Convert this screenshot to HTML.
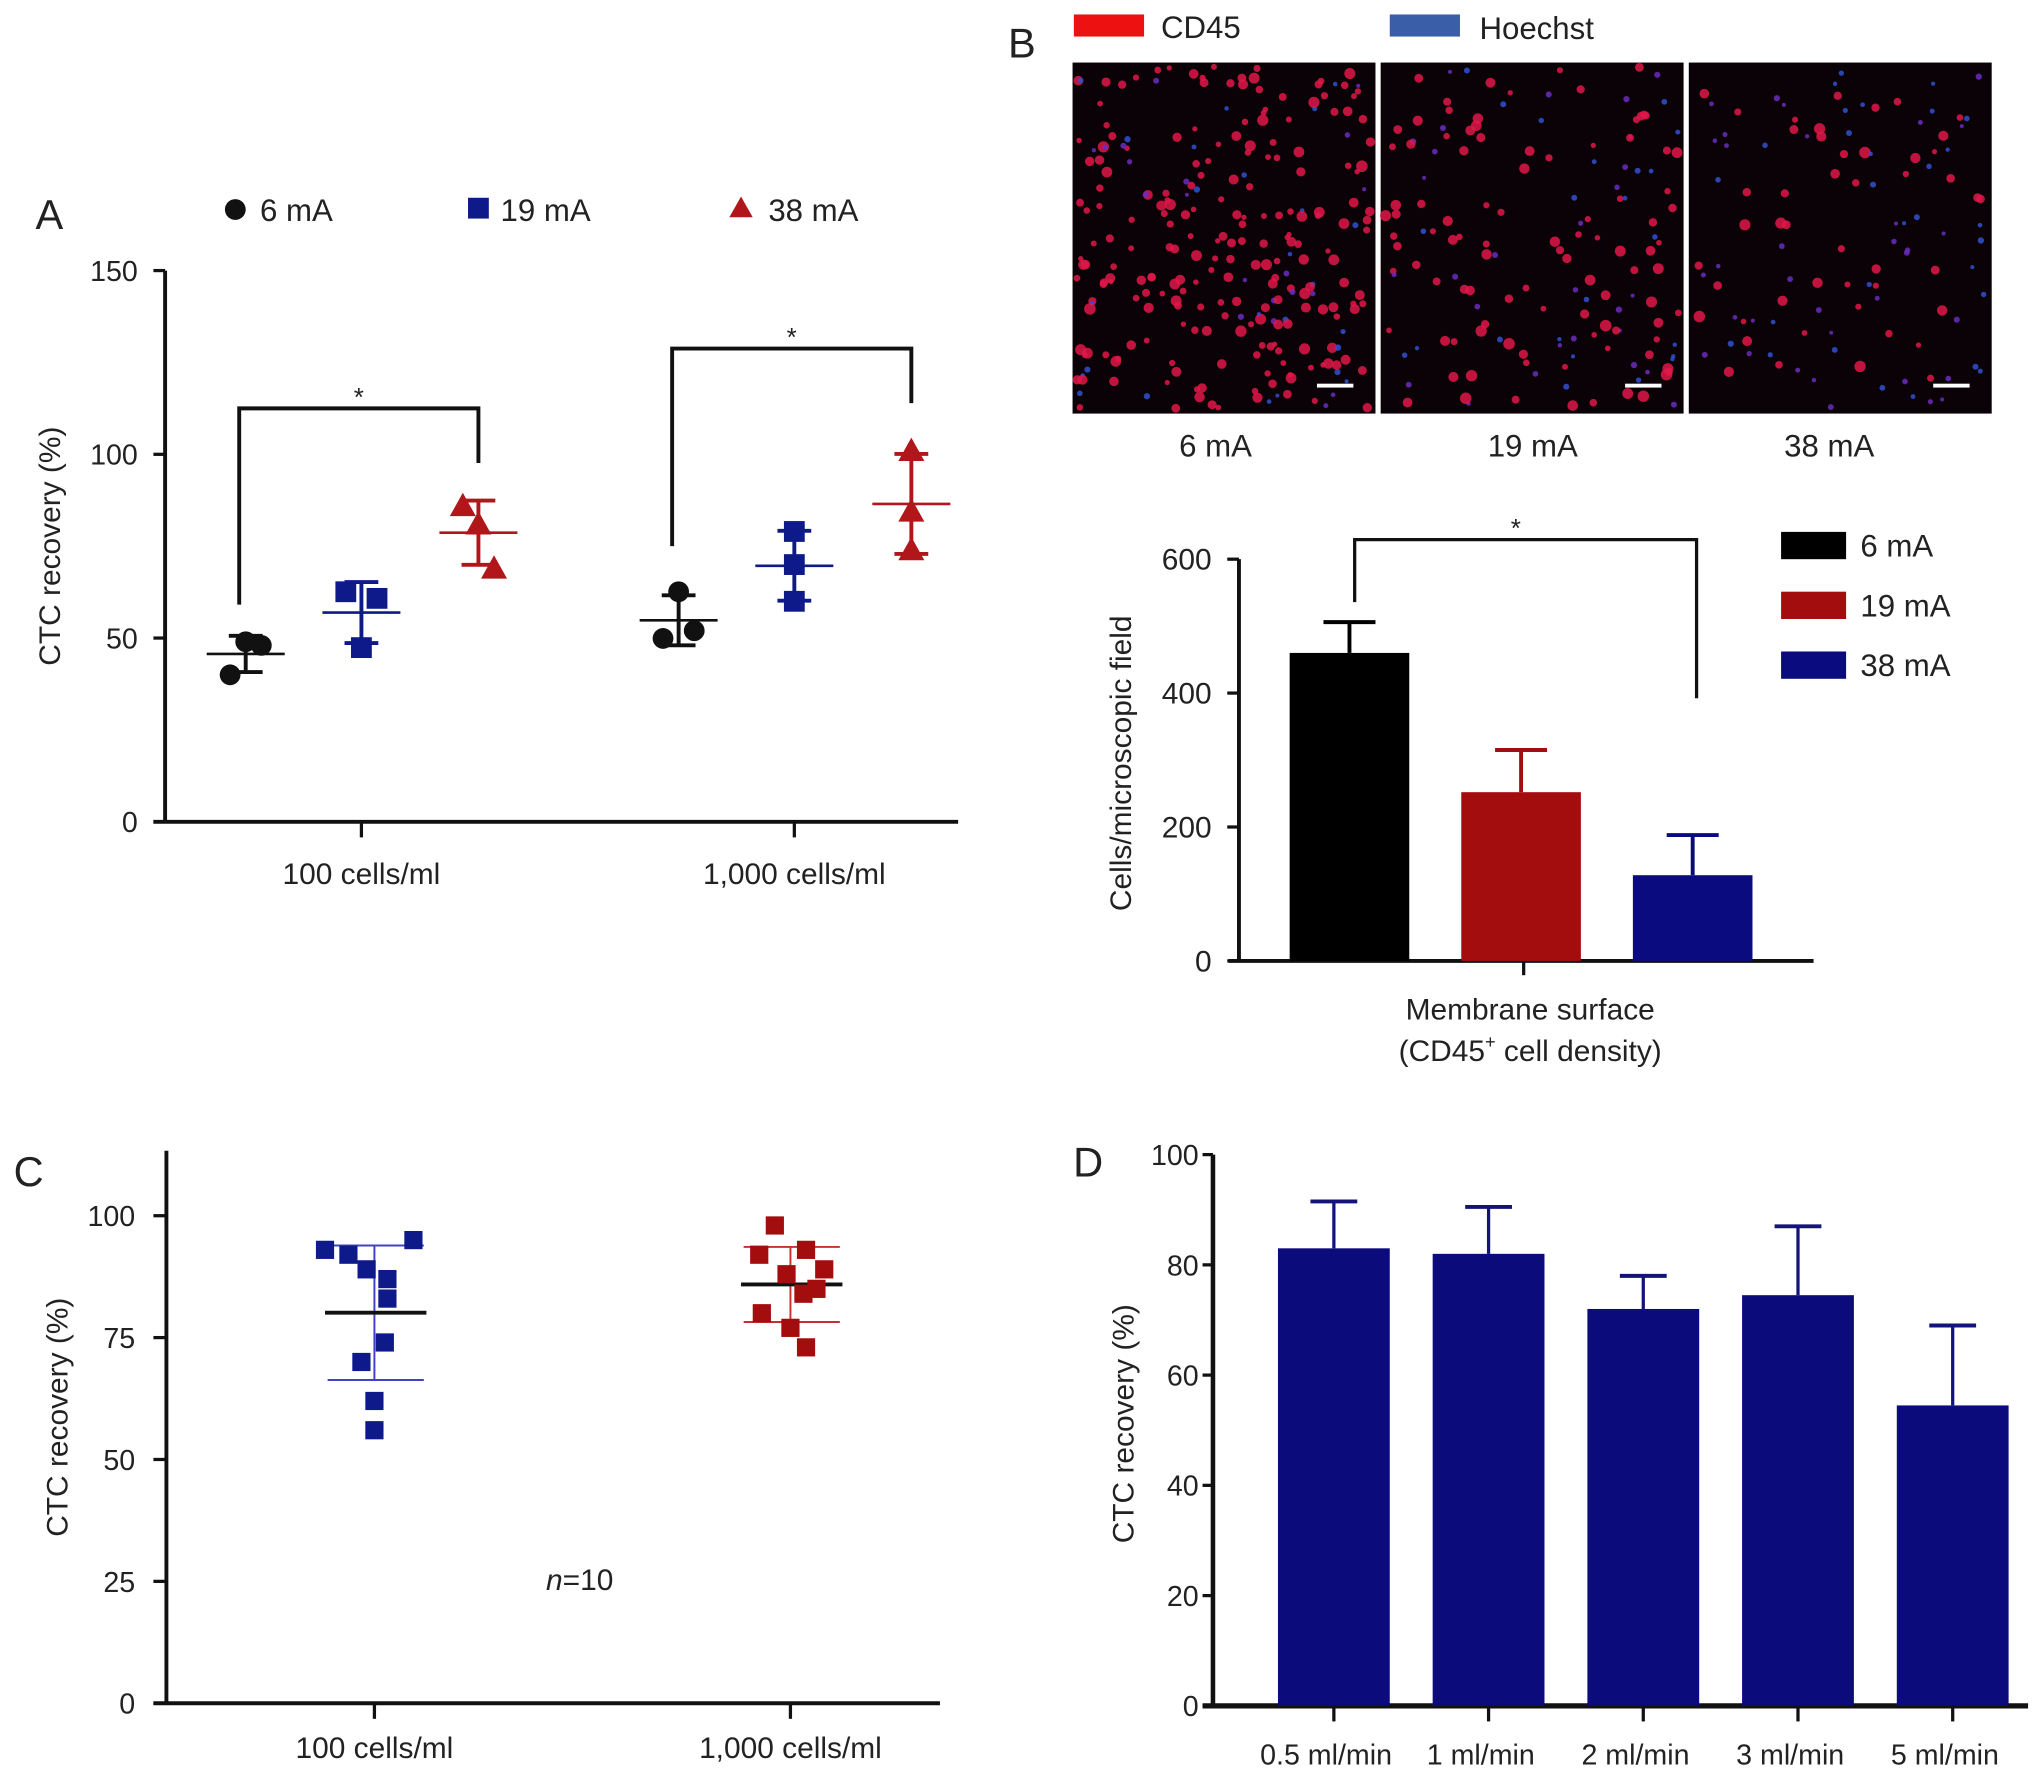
<!DOCTYPE html>
<html><head><meta charset="utf-8"><style>
html,body{margin:0;padding:0;background:#fff}
svg{display:block}
text{font-family:"Liberation Sans",Arial,sans-serif;fill:#222}
</style></head><body>
<svg id="fig" width="2032" height="1771" viewBox="0 0 1563 1362" xmlns="http://www.w3.org/2000/svg">
<rect width="1563" height="1362" fill="#fff"/>
</svg>
<script>
// ---- Panel A data ----
const aCategories = ["100 cells/ml", "1,000 cells/ml"];
const aSeriesNames = ["6 mA", "19 mA", "38 mA"];
const a6mA = [[40, 49, 48], [62.6, 49.9, 52]];
const a19mA = [[62.6, 47.4, 60.8], [79, 70, 60]];
const a38mA = [[86, 81, 69], [101, 84.5, 74]];
const aTicks = [0, 50, 100, 150];
// ---- Panel B data ----
const bSeries = ["6 mA", "19 mA", "38 mA"];
const bValues = [460, 252, 128];
const bErrors = [506, 315, 188];
const bTicks = [0, 200, 400, 600];
// ---- Panel C data ----
const cCategories = ["100 cells/ml", "1,000 cells/ml"];
const c100 = [95, 93, 92, 89, 87, 83, 74, 70, 62, 56];
const c1000 = [98, 93, 92, 89, 88, 85, 84, 80, 77, 73];
const cTicks = [0, 25, 50, 75, 100];
// ---- Panel D data ----
const dCategories = ["0.5 ml/min", "1 ml/min", "2 ml/min", "3 ml/min", "5 ml/min"];
const dValues = [83, 82, 72, 74.5, 54.5];
const dErrors = [91.5, 90.5, 78, 87, 69];
const dTicks = [0, 20, 40, 60, 80, 100];

const NS = "http://www.w3.org/2000/svg";
const svg = document.getElementById('fig');
function el(tag, attrs, parent, txt) {
  const e = document.createElementNS(NS, tag);
  for (const k in attrs) e.setAttribute(k, attrs[k]);
  if (txt !== undefined) e.textContent = txt;
  (parent || svg).appendChild(e);
  return e;
}
function mean(a){return a.reduce((s,v)=>s+v,0)/a.length;}
function sd(a){const m=mean(a);return Math.sqrt(a.reduce((s,v)=>s+(v-m)*(v-m),0)/(a.length-1));}
function line(x1,y1,x2,y2,stroke,w,name){const l=el('line',{x1,y1,x2,y2,stroke,'stroke-width':w});


return l;}
function txt(x,y,s,size,anchor,name,extra){const t=el('text',Object.assign({x,y,'font-size':size,'text-anchor':anchor||'middle'},extra||{}),svg,s);


return t;}

// ================= Panel A =================
{
  const y0 = 632, y1 = 208, ax = 127;
  const ya = v => y0 - (v - 0) / 150 * (y0 - y1);
  txt(38, 176, "A", 32, "middle", "panel-a-label");
  line(ax, y1, ax, y0 + 1, '#111', 3, 'a-y-axis');
  line(118, y0, 737, y0, '#111', 3, 'a-x-axis');
  aTicks.forEach(t => {
    line(118, ya(t), ax, ya(t), '#111', 2.5, 'a-y-tick');
    txt(106, ya(t) + 8, String(t), 22, 'end', 'a-y-tick-label');
  });
  const cx = [278, 611];
  aCategories.forEach((c, i) => {
    line(cx[i], y0, cx[i], y0 + 12, '#111', 2.5, 'a-x-tick');
    txt(cx[i], 680, c, 23, 'middle', 'a-x-tick-label');
  });
  txt(0, 0, "CTC recovery (%)", 23, 'middle', 'a-y-axis-title', {transform: 'translate(46,420) rotate(-90)'});
  const colors = ['#111', '#0f1a8a', '#b0161a'];
  const offs = [-89, 0, 90];
  const series = [a6mA, a19mA, a38mA];
  const jitterSets = [[[-12, 0, 12], [-12, 0, 12], [-12, 0, 12]], [[0, -12, 12], [0, 0, 0], [0, 0, 0]]];
  series.forEach((s, si) => {
    s.forEach((vals, ci) => {
      const x = cx[ci] + offs[si];
      const jitter = jitterSets[ci][si];
      const m = mean(vals), d = sd(vals);
      line(x - 30, ya(m), x + 30, ya(m), colors[si], 2, 'a-mean-line');
      line(x, ya(m - d), x, ya(m + d), colors[si], 3, 'a-sd-bar');
      line(x - 13, ya(m + d), x + 13, ya(m + d), colors[si], 3, 'a-sd-cap');
      line(x - 13, ya(m - d), x + 13, ya(m - d), colors[si], 3, 'a-sd-cap');
      vals.forEach((v, k) => {
        const px = x + jitter[k], py = ya(v);
        let p;
        if (si === 0) p = el('circle', {cx: px, cy: py, r: 8, fill: colors[0]});
        else if (si === 1) p = el('rect', {x: px - 8, y: py - 8, width: 16, height: 16, fill: colors[1]});
        else p = el('polygon', {points: `${px},${py-10} ${px+10},${py+8} ${px-10},${py+8}`, fill: colors[2]});
        
        
      });
    });
  });
  [[184, 465, 368, 356, 314], [517, 420, 701, 310, 268]].forEach(b => {
    const pl = el('polyline', {points: `${b[0]},${b[1]} ${b[0]},${b[4]} ${b[2]},${b[4]} ${b[2]},${b[3]}`, fill: 'none', stroke: '#111', 'stroke-width': 3});
    
    
    txt((b[0] + b[2]) / 2, b[4] - 2, '*', 20, 'middle', 'a-significance-star');
  });
  const lg = [[181, '6 mA', 0, 200], [368, '19 mA', 1, 385], [570, '38 mA', 2, 591]];
  lg.forEach(l => {
    let m;
    if (l[2] === 0) m = el('circle', {cx: l[0], cy: 161, r: 8, fill: colors[0]});
    else if (l[2] === 1) m = el('rect', {x: l[0] - 8, y: 152, width: 16, height: 16, fill: colors[1]});
    else m = el('polygon', {points: `${l[0]},${151} ${l[0]+9},${167} ${l[0]-9},${167}`, fill: colors[2]});
    
    
    txt(l[3], 170, l[1], 24, 'start', 'a-legend-label');
  });
}

// ================= Panel B images =================
{
  txt(786, 44, "B", 32, "middle", "panel-b-label");
  const r1 = el('rect', {x: 826, y: 11, width: 54, height: 17, fill: '#ee1111'});
  
  
  txt(893, 29, "CD45", 24, 'start', 'b-legend-cd45-label');
  const r2 = el('rect', {x: 1069, y: 11, width: 54, height: 17, fill: '#3a5ea8'});
  
  
  txt(1138, 30, "Hoechst", 24, 'start', 'b-legend-hoechst-label');
  let seed = 7;
  const rnd = () => { seed = (seed * 16807) % 2147483647; return seed / 2147483647; };
  const panels = [[825, 260, 0.85], [1062, 150, 0.6], [1299, 110, 0.4]];
  const labels = ["6 mA", "19 mA", "38 mA"];
  panels.forEach((p, i) => {
    const g = el('g', {});
    
    
    el('rect', {x: p[0], y: 48, width: 233, height: 270, fill: '#0a0206'}, g);
    for (let k = 0; k < p[1]; k++) {
      const red = rnd() < p[2];
      el('circle', {cx: p[0] + 3 + rnd() * 227, cy: 51 + rnd() * 264, r: red ? 2 + rnd() * 2.5 : 1.5 + rnd(), fill: red ? '#e0184a' : (rnd() < 0.5 ? '#6a2cc0' : '#3050d0'), opacity: 0.85}, g);
    }
    el('rect', {x: p[0] + 188, y: 295, width: 28, height: 3, fill: '#fff'}, g);
    txt(p[0] + [110, 117, 108][i], 351, labels[i], 24, 'middle', 'b-image-label');
  });
}

// ================= Panel B chart =================
{
  const y0 = 739, y1 = 430, ax = 953;
  const yb = v => y0 - v / 600 * (y0 - y1);
  line(ax, y1, ax, y0 + 1, '#111', 3, 'b-y-axis');
  line(945, y0, 1395, y0, '#111', 3, 'b-x-axis');
  bTicks.forEach(t => {
    line(944, yb(t), ax, yb(t), '#111', 2.5, 'b-y-tick');
    txt(932, yb(t) + 8, String(t), 23, 'end', 'b-y-tick-label');
  });
  line(1172, y0, 1172, y0 + 11, '#111', 2.5, 'b-x-tick');
  txt(1177, 784, "Membrane surface", 23, 'middle', 'b-x-axis-title');
  const t2 = txt(1177, 816, "(CD45", 23, 'middle', 'b-x-axis-subtitle');
  el('tspan', {'font-size': 14, dy: -10}, t2, '+');
  el('tspan', {dy: 10}, t2, ' cell density)');
  txt(0, 0, "Cells/microscopic field", 23, 'middle', 'b-y-axis-title', {transform: 'translate(870,587) rotate(-90)'});
  const colors = ['#000', '#a30d0d', '#0b0b80'];
  const cx = [1038, 1170, 1302];
  bValues.forEach((v, i) => {
    line(cx[i], yb(v), cx[i], yb(bErrors[i]), colors[i], 3, 'b-error-bar');
    line(cx[i] - 20, yb(bErrors[i]), cx[i] + 20, yb(bErrors[i]), colors[i], 3, 'b-error-cap');
    const r = el('rect', {x: cx[i] - 46, y: yb(v), width: 92, height: y0 - yb(v), fill: colors[i]});
    
    
  });
  const pl = el('polyline', {points: `1042,463 1042,415 1305,415 1305,537`, fill: 'none', stroke: '#111', 'stroke-width': 2.5});
  
  
  txt(1166, 413, '*', 20, 'middle', 'b-significance-star');
  bSeries.forEach((s, i) => {
    const r = el('rect', {x: 1370, y: 409 + i * 46, width: 50, height: 21, fill: colors[i]});
    
    
    txt(1431, 428 + i * 46, s, 24, 'start', 'b-legend-label');
  });
}

// ================= Panel C =================
{
  const y0 = 1310, y1 = 935, ax = 128;
  const yc = v => y0 - v / 100 * (y0 - y1);
  txt(22, 912, "C", 32, "middle", "panel-c-label");
  line(ax, 885, ax, y0 + 1, '#111', 3, 'c-y-axis');
  line(118, y0, 723, y0, '#111', 3, 'c-x-axis');
  cTicks.forEach(t => {
    line(118, yc(t), ax, yc(t), '#111', 2.5, 'c-y-tick');
    txt(104, yc(t) + 8, String(t), 22, 'end', 'c-y-tick-label');
  });
  const cx = [288, 608];
  cCategories.forEach((c, i) => {
    line(cx[i], y0, cx[i], y0 + 12, '#111', 2.5, 'c-x-tick');
    txt(cx[i], 1352, c, 23, 'middle', 'c-x-tick-label');
  });
  txt(0, 0, "CTC recovery (%)", 23, 'middle', 'c-y-axis-title', {transform: 'translate(52,1090) rotate(-90)'});
  const nt = txt(420, 1223, "", 23, 'start', 'c-n-annotation');
  el('tspan', {'font-style': 'italic'}, nt, 'n');
  el('tspan', {}, nt, '=10');
  const jit = [30, -38, -20, -6, 10, 10, 8, -10, 0, 0];
  const jit2 = [-12, 12, -24, 26, -3, 20, 10, -22, 0, 12];
  const sets = [[c100, '#0f1a8a', '#4040c8'], [c1000, '#a30d0d', '#c83030']];
  sets.forEach((s, i) => {
    const vals = s[0], m = mean(vals), d = sd(vals), x = cx[i];
    line(x, yc(m - d), x, yc(m + d), s[2], 1.5, 'c-sd-bar');
    line(x - 36, yc(m + d), x + 38, yc(m + d), s[2], 1.5, 'c-sd-cap');
    line(x - 36, yc(m - d), x + 38, yc(m - d), s[2], 1.5, 'c-sd-cap');
    line(x - 38, yc(m), x + 40, yc(m), '#111', 3, 'c-mean-line');
    vals.forEach((v, k) => {
      const px = x + (i === 0 ? jit[k] : jit2[k]);
      const r = el('rect', {x: px - 7, y: yc(v) - 7, width: 14, height: 14, fill: s[1]});
      
      
    });
  });
}

// ================= Panel D =================
{
  const y0 = 1312, y1 = 888, ax = 933;
  const yd = v => y0 - v / 100 * (y0 - y1);
  txt(837, 905, "D", 32, "middle", "panel-d-label");
  line(ax, y1, ax, y0 + 1, '#111', 3.5, 'd-y-axis');
  line(925, y0, 1560, y0, '#111', 4, 'd-x-axis');
  dTicks.forEach(t => {
    line(925, yd(t), ax, yd(t), '#111', 2.5, 'd-y-tick');
    txt(922, yd(t) + 8, String(t), 22, 'end', 'd-y-tick-label');
  });
  txt(0, 0, "CTC recovery (%)", 23, 'middle', 'd-y-axis-title', {transform: 'translate(872,1095) rotate(-90)'});
  const step = 119, first = 1026, bw = 86;
  dCategories.forEach((c, i) => {
    const x = first + i * step;
    line(x, yd(dValues[i]), x, yd(dErrors[i]), '#13137a', 2.5, 'd-error-bar');
    line(x - 18, yd(dErrors[i]), x + 18, yd(dErrors[i]), '#13137a', 3, 'd-error-cap');
    const r = el('rect', {x: x - bw / 2, y: yd(dValues[i]), width: bw, height: y0 - yd(dValues[i]), fill: '#0b0b7c'});
    
    
    line(x, y0, x, y0 + 12, '#111', 2.5, 'd-x-tick');
    txt(x - 6, 1357, c, 22, 'middle', 'd-x-tick-label');
  });
}
</script>
</body></html>
